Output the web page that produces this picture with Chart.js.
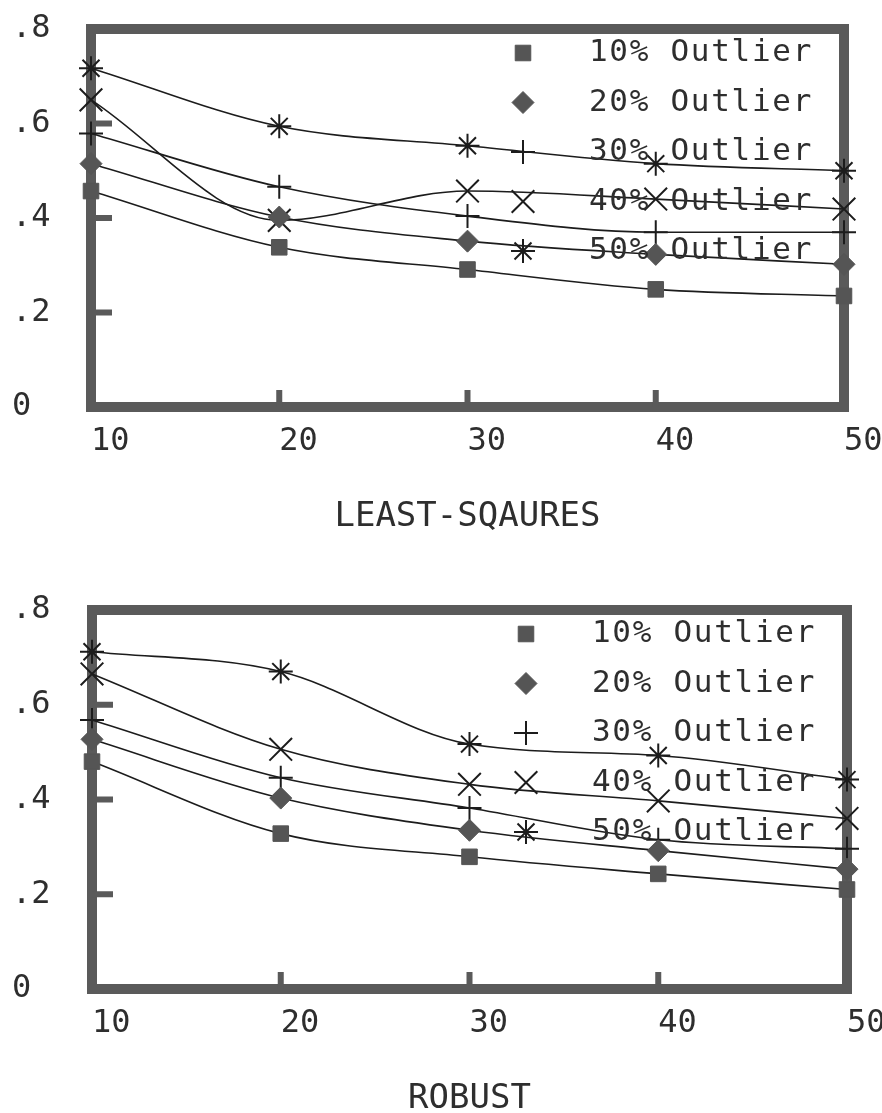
<!DOCTYPE html>
<html>
<head>
<meta charset="utf-8">
<script src="https://cdn.jsdelivr.net/npm/chart.js@4.4.1/dist/chart.umd.min.js"></script>
<style>
  html, body { margin: 0; padding: 0; background: #fff; }
  canvas { display: block; }
</style>
</head>
<body>
<canvas id="lsChart" width="882" height="556"></canvas>
<canvas id="robustChart" width="882" height="557"></canvas>
<script>
// values
const sampleSizes = [10, 20, 30, 40, 50];
const xTickLabels = ['10', '20', '30', '40', '50'];
const yTickValues = [0, 0.2, 0.4, 0.6, 0.8];
const yTickLabels = ['0', '.2', '.4', '.6', '.8'];
const seriesNames = ['10% Outlier', '20% Outlier', '30% Outlier', '40% Outlier', '50% Outlier'];

// least-squares panel
const lsOut10 = [0.457, 0.338, 0.291, 0.249, 0.235];
const lsOut20 = [0.515, 0.402, 0.351, 0.323, 0.302];
const lsOut30 = [0.579, 0.466, 0.404, 0.370, 0.370];
const lsOut40 = [0.650, 0.395, 0.457, 0.440, 0.419];
const lsOut50 = [0.717, 0.594, 0.553, 0.515, 0.500];

// robust panel
const rbOut10 = [0.480, 0.328, 0.279, 0.243, 0.210];
const rbOut20 = [0.527, 0.403, 0.335, 0.292, 0.253];
const rbOut30 = [0.568, 0.446, 0.382, 0.315, 0.296];
const rbOut40 = [0.665, 0.506, 0.432, 0.397, 0.360];
const rbOut50 = [0.712, 0.670, 0.517, 0.493, 0.442];

// styling
const mono = '"DejaVu Sans Mono", "Liberation Mono", monospace';
const textColor = '#2e2e2e';
const frameColor = '#5a5a5a';
const markerFill = '#555';
const lineColor = '#1c1c1c';
const markerStyles = ['rect', 'rectRot', 'cross', 'crossRot', 'star'];
const markerSizes = [11, 11, 12, 16, 12];

// thick box around the plot plus the short inward ticks
const framePlugin = {
  id: 'frame',
  beforeDatasetsDraw(chart) {
    const { ctx, chartArea: a, scales: { x, y } } = chart;
    ctx.save();
    ctx.strokeStyle = frameColor;
    ctx.lineWidth = 10;
    ctx.strokeRect(a.left, a.top, a.right - a.left, a.bottom - a.top);
    ctx.lineWidth = 6;
    ctx.beginPath();
    yTickValues.slice(1, -1).forEach(v => {
      const py = y.getPixelForValue(v);
      ctx.moveTo(a.left, py);
      ctx.lineTo(a.left + 21, py);
    });
    sampleSizes.slice(1, -1).forEach(v => {
      const px = x.getPixelForValue(v);
      ctx.moveTo(px, a.bottom);
      ctx.lineTo(px, a.bottom - 17);
    });
    ctx.stroke();
    ctx.restore();
  }
};

// legend drawn inside the plot, top right
const insideLegend = {
  id: 'insideLegend',
  afterDatasetsDraw(chart) {
    const { ctx, chartArea: a } = chart;
    chart.data.datasets.forEach((ds, i) => {
      const y = a.top + 24 + i * 49.5;
      ctx.save();
      ctx.fillStyle = markerFill;
      ctx.strokeStyle = ds.pointBorderColor;
      ctx.lineWidth = ds.pointBorderWidth;
      Chart.helpers.drawPoint(ctx, {
        pointStyle: ds.pointStyle,
        radius: ds.pointRadius,
        borderWidth: ds.pointBorderWidth,
        rotation: 0
      }, a.right - 321, y);
      ctx.font = '31px ' + mono;
      ctx.letterSpacing = '1.7px';
      ctx.fillStyle = textColor;
      ctx.textBaseline = 'middle';
      ctx.textAlign = 'left';
      ctx.fillText(ds.label, a.right - 255, y);
      ctx.restore();
    });
  }
};

function makeChart(id, title, series, geom) {
  return new Chart(document.getElementById(id), {
    type: 'line',
    data: {
      datasets: series.map((vals, i) => ({
        label: seriesNames[i],
        data: vals.map((v, j) => ({ x: sampleSizes[j], y: v })),
        borderColor: lineColor,
        borderWidth: 1.6,
        pointStyle: markerStyles[i],
        pointRadius: markerSizes[i],
        pointBackgroundColor: markerFill,
        pointBorderColor: i < 2 ? markerFill : lineColor,
        pointBorderWidth: i < 2 ? 1 : 2,
        cubicInterpolationMode: 'monotone',
        fill: false,
        clip: false
      }))
    },
    options: {
      responsive: false,
      animation: false,
      devicePixelRatio: 1,
      layout: { padding: { left: 12, top: geom.top, right: 0, bottom: 0 } },
      plugins: {
        legend: { display: false },
        tooltip: { enabled: false },
        title: {
          display: true,
          text: title,
          position: 'bottom',
          fullSize: false,
          color: textColor,
          font: { family: mono, size: 34, weight: 'normal', lineHeight: 0.8 },
          padding: { top: 36.4, bottom: geom.titleBottom }
        }
      },
      scales: {
        x: {
          type: 'linear',
          min: 10,
          max: 50,
          grid: { display: false },
          border: { display: false },
          ticks: {
            stepSize: 10,
            align: 'start',
            padding: 11,
            color: textColor,
            font: { family: mono, size: 32, lineHeight: 1 },
            callback: v => xTickLabels[sampleSizes.indexOf(v)]
          },
          afterFit: s => { s.height = 60; s.paddingRight = geom.right; }
        },
        y: {
          min: 0,
          max: 0.8,
          grid: { display: false },
          border: { display: false },
          ticks: {
            stepSize: 0.2,
            crossAlign: 'far',
            color: textColor,
            font: { family: mono, size: 32, lineHeight: 1 },
            callback: v => yTickLabels[yTickValues.findIndex(t => Math.abs(t - v) < 1e-6)]
          },
          afterFit: s => { s.width = geom.yWidth; }
        }
      }
    },
    plugins: [framePlugin, insideLegend]
  });
}

makeChart('lsChart', 'LEAST-SQAURES',
  [lsOut10, lsOut20, lsOut30, lsOut40, lsOut50],
  { top: 29, titleBottom: 25.4, right: 38, yWidth: 79 });

makeChart('robustChart', 'ROBUST',
  [rbOut10, rbOut20, rbOut30, rbOut40, rbOut50],
  { top: 54, titleBottom: 0.4, right: 35, yWidth: 80 });
</script>
</body>
</html>
